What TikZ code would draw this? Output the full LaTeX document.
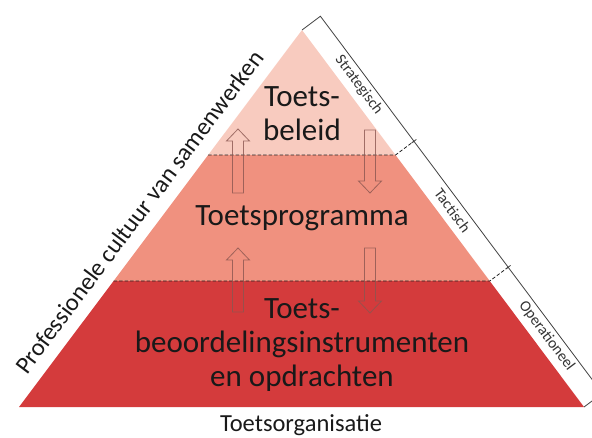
\documentclass[tikz,border=0pt]{standalone}
\usepackage{fontspec}
\setmainfont{Carlito}
\usetikzlibrary{calc,positioning}
\definecolor{beleidkleur}{HTML}{F8CBBF}
\definecolor{programmakleur}{HTML}{F0917F}
\definecolor{instrumentkleur}{HTML}{D43B3C}
\definecolor{pijlkleur}{HTML}{8A5650}
\definecolor{lijnkleur}{HTML}{404040}

\begin{document}
\begin{tikzpicture}[x=1pt,y=-1pt,
  scheid/.style={dash pattern=on 3.5pt off 2pt, line width=0.8pt, draw=black!85},
  haak/.style={line width=0.8pt, draw=lijnkleur},
  pijl/.style={line width=0.8pt, draw=pijlkleur, draw opacity=0.8},
  laagtekst/.style={font=\fontsize{31}{34}\selectfont, align=center, inner sep=0pt, text=black!90},
  niveau/.style={font=\fontsize{15.5}{17}\selectfont, inner sep=0pt, text=black!80},
  zijtekst/.style={font=\fontsize{24.5}{28}\selectfont, inner sep=0pt, text=black!90}]
\useasboundingbox (0,0) rectangle (592,437);

\coordinate (top) at (302,30);
\coordinate (bl) at (19,407);
\coordinate (br) at (584,407);
\coordinate (l1) at ($(top)!0.3316!(bl)$);
\coordinate (r1) at ($(top)!0.3316!(br)$);
\coordinate (l2) at ($(top)!0.6658!(bl)$);
\coordinate (r2) at ($(top)!0.6658!(br)$);

% lagen
\fill[beleidkleur] (top) -- (r1) -- (l1) -- cycle;
\fill[programmakleur] (l1) -- (r1) -- (r2) -- (l2) -- cycle;
\fill[instrumentkleur] (l2) -- (r2) -- (br) -- (bl) -- cycle;

\draw[scheid] (l1) -- (r1) -- ($(r1)!23pt!90:(br)$);
\draw[scheid] (l2) -- (r2) -- ($(r2)!23pt!90:(br)$);

% haak rechts
\coordinate (ktop) at ($(top)!23pt!90:(br)$);
\coordinate (kbot) at ($(br)!23pt!-90:(top)$);
\draw[haak] (top) -- (ktop) -- (kbot) -- (br);
\draw[haak] ($(r1)!20pt!90:(br)$) -- ($(r1)!26pt!90:(br)$);
\draw[haak] ($(r2)!20pt!90:(br)$) -- ($(r2)!26pt!90:(br)$);

% blokpijlen
\foreach \x/\staart/\basis/\punt in {238/193/141/129, 238/312/260/248, 370/130/181/193, 370/248/301/313}
  \draw[pijl] (\x-5.5,\staart) -- (\x-5.5,\basis) -- (\x-11.5,\basis) -- (\x,\punt)
    -- (\x+11.5,\basis) -- (\x+5.5,\basis) -- (\x+5.5,\staart) -- cycle;

\node[laagtekst] (beleid) at (302,114) {Toets-\\beleid};
\node[laagtekst] (programma) at (302,218) {Toetsprogramma};
\node[laagtekst] (instrumenten) at (302,345) {Toets-\\beoordelingsinstrumenten\\en opdrachten};

\path (top) -- (br)
  node[niveau, pos=0.166, sloped, above=12.5pt, anchor=center] (strategisch) {Strategisch}
  node[niveau, pos=0.499, sloped, above=12.5pt, anchor=center] (tactisch) {Tactisch}
  node[niveau, pos=0.832, sloped, above=12.5pt, anchor=center] (operationeel) {Operationeel};
\path (bl) -- (top)
  node[zijtekst, pos=0.484, sloped, above=21pt, anchor=center] (cultuur) {Professionele cultuur van samenwerken};
\node[zijtekst] (organisatie) at (301,425) {Toetsorganisatie};
\end{tikzpicture}
\end{document}
